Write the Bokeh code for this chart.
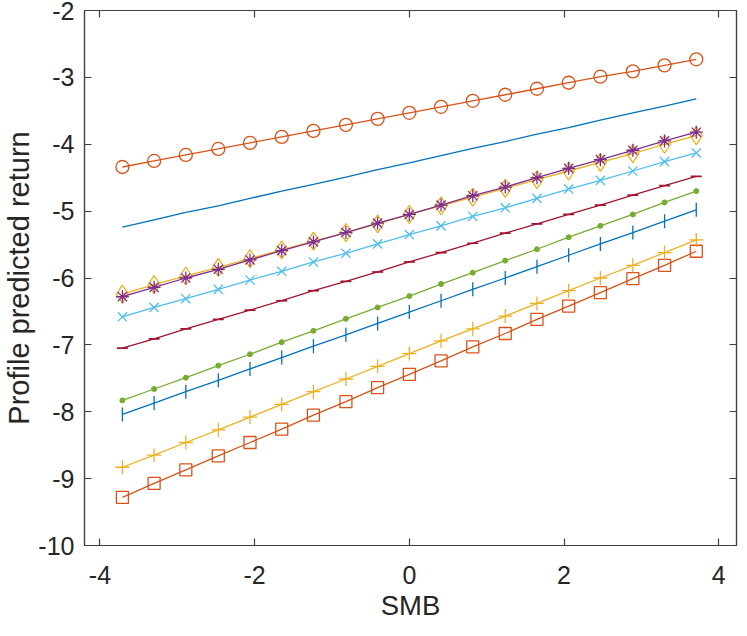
import numpy as np
from bokeh.plotting import figure
from bokeh.models import LinearAxis, Range1d, FixedTicker, CustomJSTickFormatter
from bokeh.embed import file_html
from bokeh.resources import INLINE

# ---- data ----
smb = [-3.71, -3.30, -2.89, -2.47, -2.06, -1.65, -1.24, -0.82, -0.41, 0.00,
       0.41, 0.82, 1.24, 1.65, 2.06, 2.47, 2.89, 3.30, 3.71]

s_plain = [-5.24, -5.13, -5.02, -4.92, -4.81, -4.70, -4.60, -4.49, -4.38, -4.28,
           -4.17, -4.06, -3.96, -3.85, -3.75, -3.64, -3.53, -3.43, -3.32]
s_circle = [-4.34, -4.25, -4.16, -4.07, -3.98, -3.89, -3.80, -3.71, -3.62, -3.53,
            -3.44, -3.35, -3.26, -3.17, -3.08, -2.99, -2.91, -2.82, -2.73]
s_diamond = [-6.24, -6.10, -5.97, -5.84, -5.71, -5.58, -5.45, -5.32, -5.19, -5.05,
             -4.92, -4.79, -4.66, -4.53, -4.40, -4.27, -4.14, -4.00, -3.87]
s_star = [-6.28, -6.14, -6.00, -5.87, -5.73, -5.59, -5.46, -5.32, -5.18, -5.05,
          -4.91, -4.77, -4.64, -4.50, -4.36, -4.23, -4.09, -3.95, -3.82]
s_dot = [-7.83, -7.66, -7.49, -7.31, -7.14, -6.96, -6.79, -6.61, -6.44, -6.27,
         -6.09, -5.92, -5.74, -5.57, -5.39, -5.22, -5.05, -4.87, -4.70]
s_x = [-6.58, -6.44, -6.31, -6.17, -6.03, -5.90, -5.76, -5.63, -5.49, -5.35,
       -5.22, -5.08, -4.95, -4.81, -4.67, -4.54, -4.40, -4.26, -4.13]
s_hbar = [-7.05, -6.91, -6.76, -6.62, -6.48, -6.34, -6.19, -6.05, -5.91, -5.76,
          -5.62, -5.48, -5.33, -5.19, -5.05, -4.91, -4.76, -4.62, -4.48]
s_vbar = [-8.04, -7.87, -7.70, -7.53, -7.36, -7.19, -7.02, -6.85, -6.68, -6.51,
          -6.34, -6.17, -6.00, -5.83, -5.66, -5.49, -5.32, -5.15, -4.98]
s_square = [-9.28, -9.07, -8.87, -8.66, -8.46, -8.26, -8.05, -7.85, -7.64, -7.44,
            -7.24, -7.03, -6.83, -6.62, -6.42, -6.22, -6.01, -5.81, -5.60]
s_plus = [-8.83, -8.65, -8.46, -8.27, -8.08, -7.89, -7.70, -7.51, -7.32, -7.13,
          -6.94, -6.76, -6.57, -6.38, -6.19, -6.00, -5.81, -5.62, -5.43]

x_ticks = [-4, -2, 0, 2, 4]
y_ticks = [-10, -9, -8, -7, -6, -5, -4, -3, -2]

# ---- styles ----
BLUE, ORANGE, YELLOW, PURPLE = "#0072BD", "#D95319", "#EDB120", "#7E2F8E"
GREEN, LBLUE, DRED = "#77AC30", "#4DBEEE", "#A2142F"
FONT = "Liberation Sans"
AX = "#404040"
TXT = "#262626"
LW = 1.3

p = figure(width=739, height=628,
           x_range=Range1d(-4.2, 4.23), y_range=Range1d(-10, -2),
           output_backend="svg", toolbar_location=None,
           min_border_left=78, min_border_right=3, min_border_top=10,
           min_border_bottom=83, x_axis_label="SMB",
           y_axis_label="Profile predicted return")
p.xgrid.visible = False
p.ygrid.visible = False
p.outline_line_color = AX
p.outline_line_width = 1.2
p.background_fill_color = "white"
p.border_fill_color = "white"

plain_fmt = CustomJSTickFormatter(code="return String(tick);")

def style_axis(ax, ticks, standoff, label_size, label_standoff):
    ax.ticker = FixedTicker(ticks=ticks)
    ax.formatter = plain_fmt
    ax.major_tick_in = 7
    ax.major_tick_out = 0
    ax.minor_tick_in = 0
    ax.minor_tick_out = 0
    ax.axis_line_color = AX
    ax.axis_line_width = 1.2
    ax.major_tick_line_color = AX
    ax.major_tick_line_width = 1.2
    ax.major_label_text_font = FONT
    ax.major_label_text_font_size = "25px"
    ax.major_label_text_color = TXT
    ax.major_label_standoff = standoff
    ax.axis_label_text_font = FONT
    ax.axis_label_text_font_size = label_size
    ax.axis_label_text_font_style = "normal"
    ax.axis_label_text_color = TXT
    ax.axis_label_standoff = label_standoff

style_axis(p.xaxis[0], x_ticks, 20, "27.5px", 3)
style_axis(p.yaxis[0], y_ticks, 10, "29px", 0)

# mirrored tick marks on the top and right edges (box on)
for loc, ticks in (("above", x_ticks), ("right", y_ticks)):
    ax = LinearAxis()
    style_axis(ax, ticks, 0, "1px", 0)
    ax.formatter = CustomJSTickFormatter(code="return '';")
    ax.major_label_text_font_size = "1px"
    ax.axis_label = None
    p.add_layout(ax, loc)

# ---- series ----
p.line(smb, s_plain, line_color=BLUE, line_width=LW)

p.line(smb, s_circle, line_color=ORANGE, line_width=LW)
p.scatter(smb, s_circle, marker="circle", size=13, fill_color=None,
          line_color=ORANGE, line_width=LW)

p.line(smb, s_diamond, line_color=YELLOW, line_width=LW)
p.scatter(smb, s_diamond, marker="diamond", size=18, fill_color=None,
          line_color=YELLOW, line_width=LW)

p.line(smb, s_star, line_color=PURPLE, line_width=LW)
p.scatter(smb, s_star, marker="asterisk", size=13, line_color=PURPLE,
          line_width=LW)

p.line(smb, s_dot, line_color=GREEN, line_width=LW)
p.scatter(smb, s_dot, marker="circle", size=5, fill_color=GREEN,
          line_color=GREEN)

p.line(smb, s_x, line_color=LBLUE, line_width=LW)
p.scatter(smb, s_x, marker="x", size=13, line_color=LBLUE, line_width=LW)

p.line(smb, s_hbar, line_color=DRED, line_width=LW)
p.scatter(smb, s_hbar, marker="dash", size=11, line_color=DRED,
          line_width=LW + 0.4)

p.line(smb, s_vbar, line_color=BLUE, line_width=LW)
p.scatter(smb, s_vbar, marker="dash", size=14, angle=np.pi / 2,
          line_color=BLUE, line_width=LW)

p.line(smb, s_square, line_color=ORANGE, line_width=LW)
p.scatter(smb, s_square, marker="square", size=12, fill_color=None,
          line_color=ORANGE, line_width=LW)

p.line(smb, s_plus, line_color=YELLOW, line_width=LW)
p.scatter(smb, s_plus, marker="cross", size=14, line_color=YELLOW,
          line_width=LW)

open("out.html", "w").write(file_html(p, INLINE))
